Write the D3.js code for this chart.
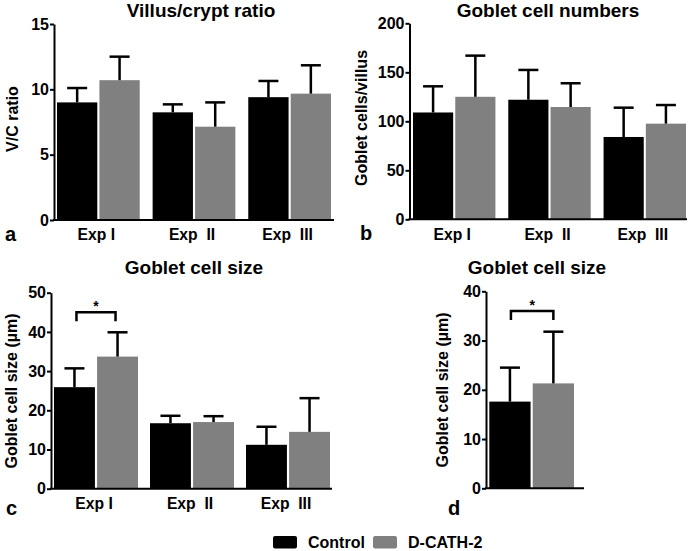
<!DOCTYPE html>
<html><head><meta charset="utf-8">
<script src="https://cdn.jsdelivr.net/npm/d3@7"></script>
<style>body{margin:0;background:#fff}svg{display:block}text{font-family:"Liberation Sans",Arial,sans-serif;font-weight:bold}</style>
</head><body>
<svg id="c" width="688" height="551"></svg>
<script>
const series = ["Control", "D-CATH-2"];
const seriesColors = ["#000000", "#808080"];
const expCategories = ["Exp I", "Exp  II", "Exp  III"];

const vcMean = [[9.0, 8.24, 9.4], [10.7, 7.14, 9.67]];
const vcErr = [[10.1, 8.85, 10.64], [12.5, 9.0, 11.84]];
const vcTicks = [0, 5, 10, 15];

const gnMean = [[109, 122, 84], [125, 114.6, 97.6]];
const gnErr = [[135.7, 152.4, 113.9], [167, 138.8, 116.6]];
const gnTicks = [0, 50, 100, 150, 200];

const gsMean = [[25.9, 16.7, 11.2], [33.7, 17.0, 14.5]];
const gsErr = [[30.7, 18.6, 15.8], [39.9, 18.5, 23.1]];
const gsTicks = [0, 10, 20, 30, 40, 50];

const gsAllCategories = [""];
const gsAllMean = [[17.6], [21.3]];
const gsAllErr = [[24.5], [31.8]];
const gsAllTicks = [0, 10, 20, 30, 40];

const svg = d3.select("#c");

function panel(o) {
  const g = svg.append("g");
  const y = d3.scaleLinear().domain([0, o.max]).range([o.y0, o.y1]);
  const xg = d3.scaleBand().domain(o.cats).range([o.b0, o.b1]).paddingInner(o.pin).paddingOuter(0);
  const xs = d3.scaleBand().domain(series).range([0, xg.bandwidth()]).paddingInner(0.05);
  series.forEach((s, si) => {
    o.cats.forEach((c, ci) => {
      const v = o.mean[si][ci], e = o.err[si][ci];
      const bx = xg(c) + xs(s), bw = xs.bandwidth(), cx = bx + bw / 2;
      g.append("rect").attr("x", bx).attr("y", y(v)).attr("width", bw).attr("height", y(0) - y(v)).attr("fill", seriesColors[si]);
      g.append("line").attr("x1", cx).attr("x2", cx).attr("y1", y(v)).attr("y2", y(e)).attr("stroke", "#000").attr("stroke-width", 2.5);
      g.append("line").attr("x1", cx - 10).attr("x2", cx + 10).attr("y1", y(e)).attr("y2", y(e)).attr("stroke", "#000").attr("stroke-width", 2.5);
    });
  });
  const ax = g.append("g").attr("transform", `translate(${o.ax},0)`)
    .call(d3.axisLeft(y).tickValues(o.ticks).tickSize(4).tickSizeOuter(0).tickPadding(1));
  ax.select(".domain").attr("stroke", "#000").attr("stroke-width", 2);
  ax.selectAll(".tick line").attr("stroke", "#000").attr("stroke-width", 2);
  ax.selectAll(".tick text").attr("font-size", 16).attr("fill", "#000").style("font-weight", "bold")
    .style("font-family", '"Liberation Sans",Arial,sans-serif');
  g.append("line").attr("x1", o.ax - 1).attr("x2", o.axEnd).attr("y1", o.y0).attr("y2", o.y0).attr("stroke", "#000").attr("stroke-width", 2);
  o.cats.forEach(c => {
    if (!c) return;
    g.append("text").attr("x", xg(c) + xg.bandwidth() / 2 - 2).attr("y", o.labY).attr("text-anchor", "middle").attr("font-size", 15.7).style("white-space", "pre").text(c);
  });
  g.append("text").attr("x", o.tx).attr("y", o.ty).attr("text-anchor", "middle").attr("font-size", 19).text(o.title);
  g.append("text").attr("transform", `translate(${o.ylx},${o.yly}) rotate(-90)`).attr("text-anchor", "middle").attr("font-size", 16).text(o.ylabel);
  g.append("text").attr("x", o.lx).attr("y", o.ly).attr("font-size", 20).text(o.letter);
  if (o.sig) {
    const [a, b] = o.sig;
    const x1 = xg(o.cats[0]) + xs(series[0]) + xs.bandwidth() / 2 + a;
    const x2 = xg(o.cats[0]) + xs(series[1]) + xs.bandwidth() / 2 + b;
    const yt = y(o.sigY), yb = yt + 9;
    g.append("path").attr("d", `M${x1},${yb}V${yt}H${x2}V${yb}`).attr("fill", "none").attr("stroke", "#000").attr("stroke-width", 2.5);
    g.append("text").attr("x", (x1 + x2) / 2).attr("y", yt - 1).attr("text-anchor", "middle").attr("font-size", 14).text("*");
  }
}

panel({cats: expCategories, mean: vcMean, err: vcErr, ticks: vcTicks, max: 15,
  y0: 220, y1: 24, b0: 57, b1: 331, pin: 0.135, ax: 54, axEnd: 334, labY: 240,
  title: "Villus/crypt ratio", tx: 201, ty: 17, ylabel: "V/C ratio", ylx: 18, yly: 119, letter: "a", lx: 5, ly: 241});
panel({cats: expCategories, mean: gnMean, err: gnErr, ticks: gnTicks, max: 200,
  y0: 219.3, y1: 23.3, b0: 413, b1: 686, pin: 0.135, ax: 409.5, axEnd: 687, labY: 240,
  title: "Goblet cell numbers", tx: 548, ty: 17, ylabel: "Goblet cells/villus", ylx: 367, yly: 118, letter: "b", lx: 360, ly: 240});
panel({cats: expCategories, mean: gsMean, err: gsErr, ticks: gsTicks, max: 50,
  y0: 488.7, y1: 292.7, b0: 54, b1: 330, pin: 0.125, ax: 51, axEnd: 332, labY: 508.5,
  title: "Goblet cell size", tx: 194, ty: 273.5, ylabel: "Goblet cell size (µm)", ylx: 17, yly: 391, letter: "c", lx: 6, ly: 515,
  sig: [2, -2], sigY: 45});
panel({cats: gsAllCategories, mean: gsAllMean, err: gsAllErr, ticks: gsAllTicks, max: 40,
  y0: 488.3, y1: 291.3, b0: 489.3, b1: 574, pin: 0, ax: 486, axEnd: 584, labY: 509,
  title: "Goblet cell size", tx: 537, ty: 273.5, ylabel: "Goblet cell size (µm)", ylx: 448, yly: 390, letter: "d", lx: 448, ly: 515,
  sig: [1, 0], sigY: 36});

const leg = svg.append("g");
const legX = [273, 373];
series.forEach((s, i) => {
  leg.append("rect").attr("x", legX[i]).attr("y", 536).attr("width", 24).attr("height", 12.5).attr("rx", 2).attr("fill", seriesColors[i]);
  leg.append("text").attr("x", legX[i] + 35).attr("y", 548).attr("font-size", 16).text(s);
});
</script>
</body></html>
